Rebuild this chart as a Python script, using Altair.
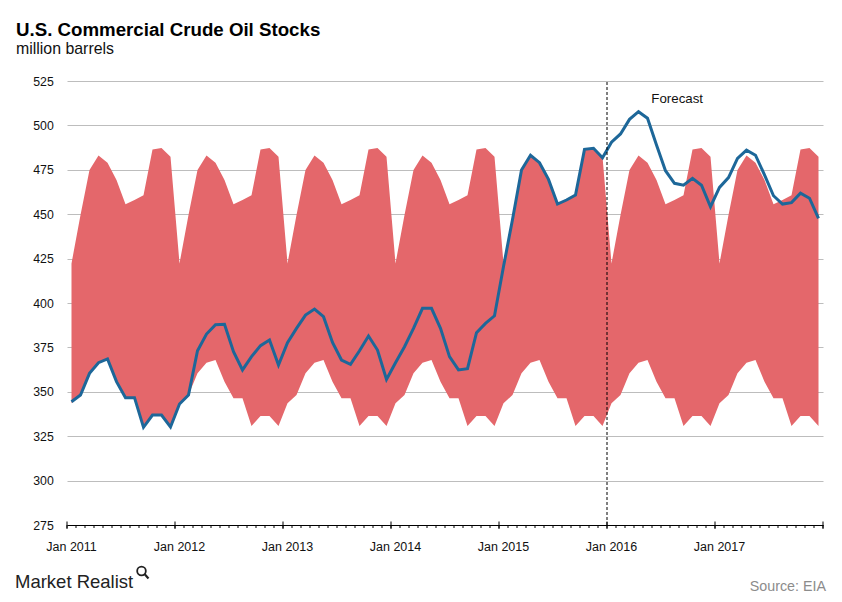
import altair as alt
import pandas as pd

# ---------------- data ----------------
years = [2011, 2012, 2013, 2014, 2015, 2016, 2017]

# five-year range band (same seasonal shape every year in the picture)
range_max_month = [422.3, 449.5, 474.9, 483.0, 479.0, 469.3, 455.6, 458.0, 460.6, 486.5, 487.3, 482.4]
range_min_month = [343.5, 348.2, 360.4, 366.4, 367.9, 355.7, 346.3, 346.3, 330.7, 336.4, 336.4, 330.7]

stocks_2011 = [344.4, 348.2, 360.4, 366.4, 368.5, 355.7, 346.7, 346.7, 330.0, 336.9, 336.9, 330.2]
stocks_2012 = [343.1, 348.2, 373.1, 382.5, 387.8, 388.0, 372.6, 362.3, 369.8, 376.0, 379.2, 365.1]
stocks_2013 = [377.7, 385.7, 393.2, 396.6, 392.3, 377.8, 367.9, 365.5, 373.1, 381.4, 373.5, 357.0]
stocks_2014 = [366.4, 375.4, 385.7, 397.0, 397.0, 385.7, 369.8, 362.3, 363.0, 383.3, 388.5, 392.8]
stocks_2015 = [420.5, 447.0, 474.9, 483.2, 479.0, 469.6, 455.7, 458.0, 460.8, 486.5, 487.1, 481.8]
stocks_2016 = [490.5, 495.2, 503.4, 507.7, 504.0, 489.0, 474.5, 467.4, 466.3, 470.2, 466.3, 454.2]
stocks_2017 = [465.1, 470.6, 481.4, 486.1, 483.2, 472.1, 460.4, 455.7, 456.5, 461.8, 459.0, 447.7]

y_ticks = [275, 300, 325, 350, 375, 400, 425, 450, 475, 500, 525]
year_labels = ["Jan " + str(y) for y in years]
forecast_start = [60]          # month index of Jan 2016
forecast_label_pos = [67.8]
forecast_label = "Forecast"

title_text = "U.S. Commercial Crude Oil Stocks"
subtitle_text = "million barrels"
source_text = "Source: EIA"
brand_text = "Market Realist"

# ---------------- tables ----------------
stocks = stocks_2011 + stocks_2012 + stocks_2013 + stocks_2014 + stocks_2015 + stocks_2016 + stocks_2017
n = len(stocks)
df = pd.DataFrame({
    "m": [i + 0.5 for i in range(n)],
    "upper": [range_max_month[i % 12] for i in range(n)],
    "lower": [range_min_month[i % 12] for i in range(n)],
    "stocks": stocks,
})
month_bounds = pd.DataFrame({"b": list(range(n + 1))})
year_bounds = pd.DataFrame({"b": [12 * k for k in range(len(years) + 1)]})
year_lab_df = pd.DataFrame({"x": [12 * k + 0.5 for k in range(len(years))], "t": year_labels})
fc_df = pd.DataFrame({"x": forecast_start})
fc_lab = pd.DataFrame({"x": forecast_label_pos, "t": [forecast_label]})
one = pd.DataFrame({"a": [0]})

FONT = "Liberation Sans"
W, H = 756, 444

xscale = alt.Scale(domain=[0, n], nice=False, zero=False)
yscale = alt.Scale(domain=[275, 525], nice=False, zero=False)

x_axis = alt.Axis(
    values=[0, n],
    title=None,
    grid=False,
    labels=False,
    ticks=False,
    tickSize=0,
    domain=True,
    domainColor="#000000",
    domainWidth=1,
)
y_axis = alt.Axis(
    values=y_ticks,
    title=None,
    domain=False,
    ticks=False,
    tickSize=0,
    grid=True,
    gridColor="#bdbdbd",
    gridWidth=1,
    labelFont=FONT,
    labelFontSize=12.3,
    labelColor="#111111",
    labelPadding=13.7,
)

band = alt.Chart(df).mark_area(color="#e4676b", opacity=1, interpolate="linear").encode(
    x=alt.X("m:Q", scale=xscale, axis=x_axis),
    y=alt.Y("upper:Q", scale=yscale, axis=y_axis),
    y2="lower:Q",
)
line = alt.Chart(df).mark_line(color="#1d6799", strokeWidth=3, strokeJoin="miter").encode(
    x=alt.X("m:Q", scale=xscale, axis=x_axis),
    y=alt.Y("stocks:Q", scale=yscale, axis=y_axis),
)
minor_ticks = alt.Chart(month_bounds).mark_rule(color="#000000", strokeWidth=1).encode(
    x=alt.X("b:Q", scale=xscale, axis=x_axis),
    y=alt.value(H),
    y2=alt.value(H + 3),
)
major_ticks = alt.Chart(year_bounds).mark_rule(color="#000000", strokeWidth=1).encode(
    x=alt.X("b:Q", scale=xscale, axis=x_axis),
    y=alt.value(H - 3.5),
    y2=alt.value(H + 4),
)
year_text = alt.Chart(year_lab_df).mark_text(font=FONT, fontSize=12.5, color="#111111",
                                             align="center", baseline="alphabetic").encode(
    x=alt.X("x:Q", scale=xscale, axis=x_axis),
    y=alt.value(H + 25.7),
    text="t:N",
)
fc_rule = alt.Chart(fc_df).mark_rule(color="#000000", strokeWidth=1, strokeDash=[3, 2]).encode(
    x=alt.X("x:Q", scale=xscale, axis=x_axis),
    y=alt.value(1),
    y2=alt.value(H),
)
fc_text = alt.Chart(fc_lab).mark_text(font=FONT, fontSize=13.3, color="#111111", align="center",
                                      baseline="alphabetic").encode(
    x=alt.X("x:Q", scale=xscale, axis=x_axis),
    y=alt.value(22),
    text="t:N",
)
title = alt.Chart(one).mark_text(font=FONT, fontSize=18.7, fontWeight="bold", color="#000000",
                                 align="left", baseline="alphabetic").encode(
    x=alt.value(-51), y=alt.value(-45), text=alt.value(title_text))
subtitle = alt.Chart(one).mark_text(font=FONT, fontSize=15.9, color="#111111",
                                    align="left", baseline="alphabetic").encode(
    x=alt.value(-51), y=alt.value(-26.7), text=alt.value(subtitle_text))
brand = alt.Chart(one).mark_text(font=FONT, fontSize=18.5, color="#222222",
                                 align="left", baseline="alphabetic").encode(
    x=alt.value(-52), y=alt.value(507), text=alt.value(brand_text))
lens = alt.Chart(one).mark_point(shape="circle", filled=False, size=75, color="#222222",
                                 strokeWidth=1.8, opacity=1).encode(
    x=alt.value(74.5), y=alt.value(490))
handle = alt.Chart(one).mark_rule(color="#222222", strokeWidth=2.2).encode(
    x=alt.value(77.5), x2=alt.value(81.5), y=alt.value(493), y2=alt.value(497.5))
source = alt.Chart(one).mark_text(font=FONT, fontSize=14.3, color="#8c8c8c",
                                  align="right", baseline="alphabetic").encode(
    x=alt.value(759), y=alt.value(510), text=alt.value(source_text))

chart = alt.layer(
    band, line, minor_ticks, major_ticks, year_text, fc_rule, fc_text,
    title, subtitle, brand, lens, handle, source
).properties(
    width=W,
    height=H,
    autosize=alt.AutoSizeParams(type="none"),
    padding={"left": 59, "top": 73, "right": 11, "bottom": 69},
    background="#ffffff",
).configure_view(stroke=None)

chart.save("out.html", embed_options={"renderer": "svg", "actions": False})
